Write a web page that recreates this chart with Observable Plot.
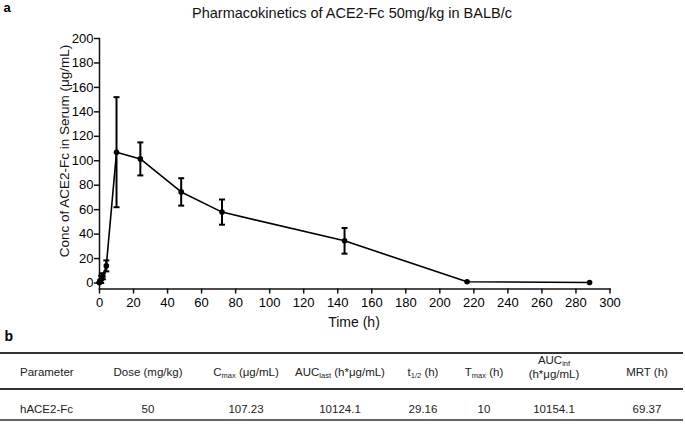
<!DOCTYPE html>
<html>
<head>
<meta charset="utf-8">
<script src="https://cdn.jsdelivr.net/npm/d3@7"></script>
<script src="https://cdn.jsdelivr.net/npm/@observablehq/plot@0.6"></script>
<style>
  html, body { margin: 0; padding: 0; background: #fff; }
  #root { position: relative; width: 685px; height: 431px; overflow: hidden; font-family: "Liberation Sans", Arial, sans-serif; }
  #root > svg { position: absolute; left: 0; top: 0; }
</style>
</head>
<body>
<div id="root"></div>
<script>
// ---- data ----
const times = [0, 0.5, 1, 2, 4, 10, 24, 48, 72, 144, 216, 288];
const means = [0.3, 1.5, 3, 5.5, 14, 107, 101.5, 74.5, 58, 34.5, 1, 0.4];
const sds   = [0.3, 1, 3, 2.5, 4.5, 45, 13.5, 11.2, 10.3, 10.5, 0, 0];
const yTicks = d3.range(0, 201, 20);
const xTicks = d3.range(0, 301, 20);

const chartTitle = "Pharmacokinetics of ACE2-Fc 50mg/kg in BALB/c";
const xLabel = "Time (h)";
const yLabel = "Conc of ACE2-Fc in Serum (μg/mL)";

const headerMain  = ["Parameter", "Dose (mg/kg)", "C", "AUC", "t", "T", "AUC", "MRT (h)"];
const headerSub   = ["", "", "max", "last", "1/2", "max", "inf", ""];
const headerRest  = ["", "", " (μg/mL)", " (h*μg/mL)", " (h)", " (h)", "", ""];
const headerLine2 = ["", "", "", "", "", "", "(h*μg/mL)", ""];
const rowValues   = ["hACE2-Fc", "50", "107.23", "10124.1", "29.16", "10", "10154.1", "69.37"];

// layout (not data)
const colX = [20, 148, 246, 340, 423, 484, 554, 647];

const pts = times.map((t, i) => ({t, m: means[i], lo: means[i] - sds[i], hi: means[i] + sds[i], sd: sds[i]}));
const bars = pts.filter(d => d.sd > 0);

const cap = { draw(ctx, size) { const w = Math.sqrt(size / Math.PI); ctx.moveTo(-w, 0); ctx.lineTo(w, 0); } };

const svgH = 330;
const chart = Plot.plot({
  width: 685,
  height: svgH,
  marginTop: 38,
  marginBottom: svgH - 288.5,
  marginLeft: 99,
  marginRight: 685 - 609.5,
  insetBottom: 6,
  style: { fontFamily: "'Liberation Sans', Arial, sans-serif", fontSize: "13px", color: "#000", background: "transparent", overflow: "visible" },
  x: { domain: [0, 300], label: null },
  y: { domain: [0, 200], label: null },
  marks: [
    Plot.frame({ anchor: "left", stroke: "#111", strokeWidth: 1.5 }),
    Plot.frame({ anchor: "bottom", stroke: "#111", strokeWidth: 1.5 }),
    Plot.axisY({ ticks: yTicks, tickSize: 5, tickPadding: 1, strokeWidth: 1.5, fontSize: 13, stroke: "#111" }),
    Plot.axisX({ ticks: xTicks, tickSize: 5, tickPadding: 3.5, strokeWidth: 1.5, fontSize: 13, stroke: "#111" }),
    Plot.ruleX(bars, { x: "t", y1: "lo", y2: "hi", stroke: "#000", strokeWidth: 2 }),
    Plot.dot(bars, { x: "t", y: "lo", symbol: cap, r: 3, stroke: "#000", strokeWidth: 2, fill: "none" }),
    Plot.dot(bars, { x: "t", y: "hi", symbol: cap, r: 3, stroke: "#000", strokeWidth: 2, fill: "none" }),
    Plot.line(pts, { x: "t", y: "m", stroke: "#000", strokeWidth: 1.6 }),
    Plot.dot(pts, { x: "t", y: "m", r: 2.8, fill: "#000", stroke: "none" })
  ]
});
const root = document.getElementById("root");
root.appendChild(chart);

// ---- overlay text + table ----
const ov = d3.select(root).append("svg")
  .attr("width", 685).attr("height", 431)
  .style("font-family", "'Liberation Sans', Arial, sans-serif")
  .style("pointer-events", "none");

ov.append("text").attr("x", 3.5).attr("y", 12).attr("font-size", 13).attr("font-weight", "bold").text("a");
ov.append("text").attr("x", 352).attr("y", 18.3).attr("font-size", 14.5).attr("text-anchor", "middle").attr("fill", "#111").text(chartTitle);
ov.append("text").attr("transform", "translate(68.5,151) rotate(-90)").attr("font-size", 13.5).attr("text-anchor", "middle").attr("fill", "#111").text(yLabel);
ov.append("text").attr("x", 354).attr("y", 327).attr("font-size", 14).attr("text-anchor", "middle").attr("fill", "#111").text(xLabel);
ov.append("text").attr("x", 4.5).attr("y", 340.7).attr("font-size", 14).attr("font-weight", "bold").text("b");

// table rules
[[353, 2], [389, 2], [420, 1.5]].forEach(([y, w]) => {
  ov.append("line").attr("x1", 0).attr("x2", 683).attr("y1", y).attr("y2", y).attr("stroke", "#333").attr("stroke-width", w);
});

const fs = 11.5;
headerMain.forEach((h, i) => {
  const anchor = i === 0 ? "start" : "middle";
  const two = headerLine2[i] !== "";
  const t = ov.append("text").attr("x", colX[i]).attr("y", two ? 364 : 376).attr("font-size", fs).attr("text-anchor", anchor).attr("fill", "#222");
  t.append("tspan").text(h);
  if (headerSub[i]) t.append("tspan").attr("font-size", 7.5).attr("dy", 2).text(headerSub[i]);
  if (headerRest[i]) t.append("tspan").attr("dy", -2).text(headerRest[i]);
  if (two) ov.append("text").attr("x", colX[i]).attr("y", 378).attr("font-size", fs).attr("text-anchor", "middle").attr("fill", "#222").text(headerLine2[i]);
});
rowValues.forEach((v, i) => {
  ov.append("text").attr("x", colX[i]).attr("y", 413).attr("font-size", fs).attr("text-anchor", i === 0 ? "start" : "middle").attr("fill", "#222").text(v);
});
</script>
</body>
</html>
